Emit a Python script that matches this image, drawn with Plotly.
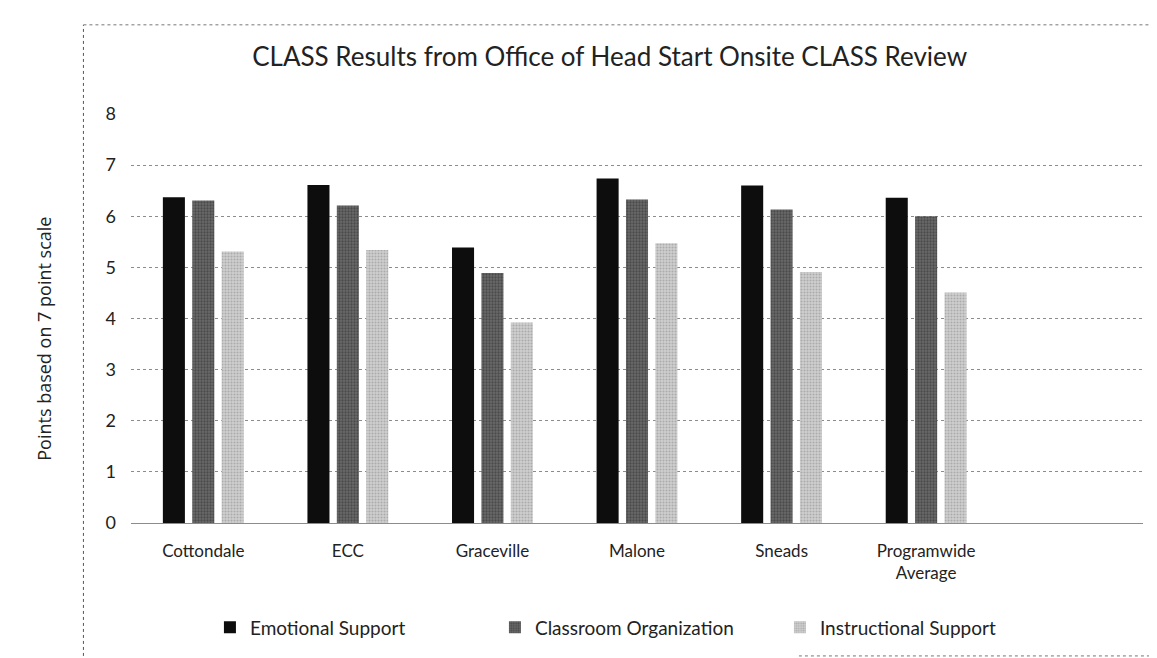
import plotly.graph_objects as go

# data
sites = ["Cottondale", "ECC", "Graceville", "Malone", "Sneads", "Programwide<br>Average"]
emotional = [6.37, 6.61, 5.39, 6.74, 6.60, 6.36]
classroom = [6.31, 6.21, 4.89, 6.33, 6.13, 6.00]
instructional = [5.31, 5.34, 3.92, 5.47, 4.91, 4.51]
y_ticks = [0, 1, 2, 3, 4, 5, 6, 7, 8]

txt = "#222222"
fig = go.Figure()
fig.add_bar(name="Emotional Support", x=sites, y=emotional,
            marker=dict(color="#0d0d0d", line_width=0))
fig.add_bar(name="Classroom Organization", x=sites, y=classroom,
            marker=dict(color="#6a6a6a", line_width=0,
                        pattern=dict(shape=".", fillmode="overlay", fgcolor="#2a2a2a",
                                     size=3, solidity=0.45)))
fig.add_bar(name="Instructional Support", x=sites, y=instructional,
            marker=dict(color="#d0d0d0", line_width=0,
                        pattern=dict(shape=".", fillmode="overlay", fgcolor="#858585",
                                     size=3, solidity=0.4)))

fig.update_layout(
    width=1157, height=658,
    margin=dict(l=123, r=22, t=106, b=143),
    paper_bgcolor="white", plot_bgcolor="white",
    barmode="group", bargap=0.39, bargroupgap=0.25,
    font=dict(family="Lato, Open Sans, sans-serif", color=txt),
    title=dict(text="CLASS Results from Office of Head Start Onsite CLASS Review",
               x=0.52, xanchor="center", y=0.925, yanchor="middle",
               font=dict(size=26, family="Lato, sans-serif", color=txt)),
    legend=dict(orientation="h", x=0.078, xanchor="left", y=-0.255, yanchor="middle",
                font=dict(size=19, color=txt), itemwidth=30,
                entrywidth=240, entrywidthmode="pixels"),
    showlegend=True,
)
fig.update_xaxes(range=[-0.5, 6.5], showgrid=False, showline=False, ticks="",
                 ticklabelstandoff=16, tickfont=dict(size=17, color=txt))
fig.update_yaxes(range=[0, 8], tickvals=y_ticks, showgrid=True, gridcolor="#8c8c8c",
                 griddash="dot", gridwidth=1, zeroline=True, zerolinecolor="#8c8c8c",
                 zerolinewidth=1, showline=False, ticks="", ticklabelstandoff=14,
                 tickfont=dict(size=18, color=txt))

# y axis title sits outside the dashed chart frame
fig.add_annotation(text="Points based on 7 point scale", xref="paper", yref="paper",
                   x=-0.1, y=0.45, textangle=-90, showarrow=False,
                   font=dict(size=18, family="Open Sans, sans-serif", color=txt))

# dashed chart frame of the scan
fig.add_shape(type="line", xref="paper", yref="paper", x0=-0.047, x1=-0.047, y0=-0.325, y1=1.218,
              line=dict(color="#555555", width=1, dash="dot"))
fig.add_shape(type="line", xref="paper", yref="paper", x0=-0.047, x1=1.03, y0=1.218, y1=1.218,
              line=dict(color="#777777", width=1, dash="dot"))
fig.add_shape(type="line", xref="paper", yref="paper", x0=0.66, x1=1.03, y0=-0.325, y1=-0.325,
              line=dict(color="#777777", width=1, dash="dot"))

fig.write_html("out.html")
